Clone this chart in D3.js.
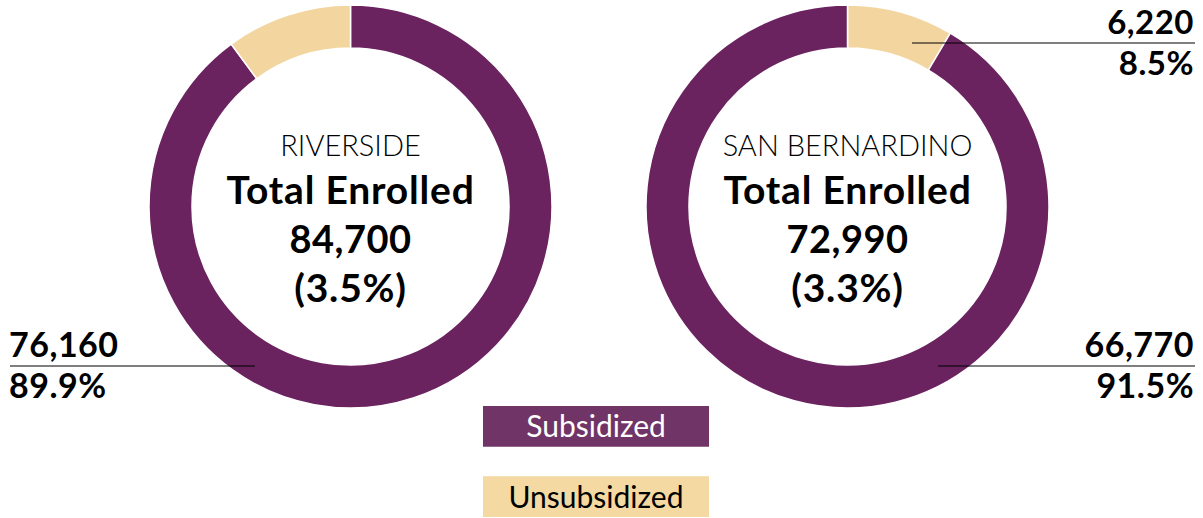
<!DOCTYPE html>
<html><head><meta charset="utf-8">
<script src="https://cdn.jsdelivr.net/npm/d3@7"></script>
<style>
html,body{margin:0;padding:0;background:#fff;}
svg{display:block;font-family:"Lato","Open Sans",sans-serif;}
</style></head>
<body>
<svg id="chart" width="1203" height="518"></svg>
<script>
const counties = ["RIVERSIDE", "SAN BERNARDINO"];
const totals = ["84,700", "72,990"];
const totalShares = ["(3.5%)", "(3.3%)"];
const categories = ["Subsidized", "Unsubsidized"];
const subsidized = [76160, 66770];
const unsubsidized = [8540, 6220];
const subsidizedPct = ["89.9%", "91.5%"];
const unsubsidizedPct = ["10.1%", "8.5%"];
const sliceOrder = [["Subsidized", "Unsubsidized"], ["Unsubsidized", "Subsidized"]];

const colors = {Subsidized: "#6b2360", Unsubsidized: "#f3d69f"};
const legendColors = {Subsidized: "#703566", Unsubsidized: "#f5d9a2"};

const svg = d3.select("#chart");
const centers = [[350.5, 206.5], [847.5, 206.5]];
const outerR = 201.5, innerR = 158.5;

const pie = d3.pie().sort(null).value(d => d.value);
const arc = d3.arc().innerRadius(innerR).outerRadius(outerR);

counties.forEach((c, i) => {
  const vals = {Subsidized: subsidized[i], Unsubsidized: unsubsidized[i]};
  const data = sliceOrder[i].map(k => ({key: k, value: vals[k]}));
  const g = svg.append("g").attr("transform", `translate(${centers[i][0]},${centers[i][1]})`);
  g.selectAll("path").data(pie(data)).join("path")
    .attr("d", arc)
    .attr("fill", d => colors[d.data.key])
    .attr("stroke", "#fff").attr("stroke-width", 1.5);

  g.append("text").attr("x", 0).attr("y", -51).attr("text-anchor", "middle")
    .attr("font-size", 29).attr("font-weight", 300).attr("fill", "#000").text(c);
  g.append("text").attr("x", 0).attr("y", -3).attr("text-anchor", "middle")
    .attr("font-size", 39).attr("font-weight", 700).attr("fill", "#000")
    .attr("letter-spacing", 0.8).text("Total Enrolled");
  g.append("text").attr("x", 0).attr("y", 46).attr("text-anchor", "middle")
    .attr("font-size", 38).attr("font-weight", 700).attr("fill", "#000")
    .attr("letter-spacing", 0.5).text(totals[i]);
  g.append("text").attr("x", 0).attr("y", 95).attr("text-anchor", "middle")
    .attr("font-size", 39).attr("font-weight", 700).attr("fill", "#000")
    .attr("letter-spacing", 0.8).text(totalShares[i]);
});

const fmt = d3.format(",");
// callouts
const callouts = [
  {x1: 10, x2: 255, y: 366, anchor: "start", tx: 9, top: fmt(subsidized[0]), bottom: subsidizedPct[0], fs: 34},
  {x1: 912, x2: 1195, y: 43, anchor: "end", tx: 1194, top: fmt(unsubsidized[1]), bottom: unsubsidizedPct[1], fs: 33},
  {x1: 938, x2: 1195, y: 366, anchor: "end", tx: 1194, top: fmt(subsidized[1]), bottom: subsidizedPct[1], fs: 34}
];
callouts.forEach(c => {
  svg.append("line").attr("x1", c.x1).attr("x2", c.x2).attr("y1", c.y).attr("y2", c.y)
    .attr("stroke", "#000").attr("stroke-width", 1.2);
  svg.append("text").attr("x", c.tx).attr("y", c.y - 9).attr("text-anchor", c.anchor)
    .attr("font-size", c.fs).attr("font-weight", 700).attr("fill", "#000")
    .attr("letter-spacing", 0.5).text(c.top);
  svg.append("text").attr("x", c.tx).attr("y", c.y + 32).attr("text-anchor", c.anchor)
    .attr("font-size", c.fs).attr("font-weight", 700).attr("fill", "#000")
    .attr("letter-spacing", 0.5).text(c.bottom);
});

// legend
const ly = d3.scaleBand().domain(categories).range([406, 517]).paddingInner(0.42);
const lg = svg.append("g");
categories.forEach(k => {
  lg.append("rect").attr("x", 483).attr("y", ly(k)).attr("width", 226).attr("height", ly.bandwidth())
    .attr("fill", legendColors[k]);
  lg.append("text").attr("x", 596).attr("y", ly(k) + ly.bandwidth() / 2 + 11).attr("text-anchor", "middle")
    .attr("font-size", 30).attr("fill", k === "Subsidized" ? "#fff" : "#000").text(k);
});
</script>
</body></html>
